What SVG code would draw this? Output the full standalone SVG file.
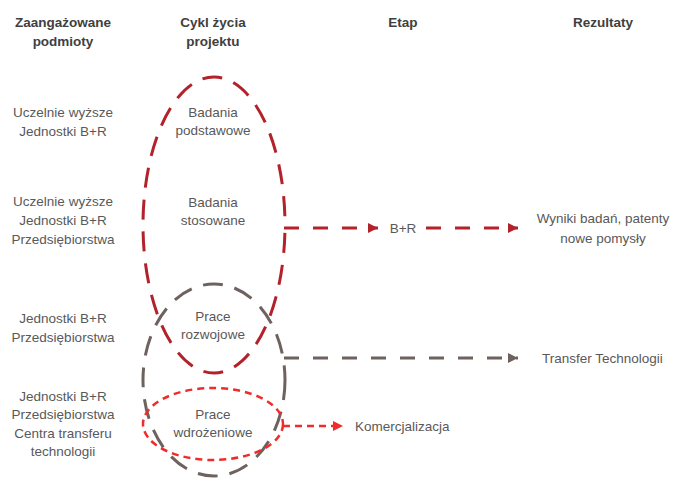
<svg xmlns="http://www.w3.org/2000/svg" width="676" height="478" viewBox="0 0 676 478">
<style>
text{font-family:"Liberation Sans",Arial,sans-serif;font-size:13.5px;fill:#595959;text-anchor:middle;dominant-baseline:central}
.h{font-weight:bold;fill:#404040;font-size:13.5px}
.l{text-anchor:start}
.red{fill:none;stroke:#b3212a;stroke-width:3}
.gray{fill:none;stroke:#6d625e;stroke-width:3}
.dot{fill:none;stroke:#f02b2b;stroke-width:2.5}
</style>
<defs>
<marker id="ar" viewBox="0 0 10 10" refX="10" refY="5" markerWidth="16" markerHeight="10" markerUnits="userSpaceOnUse" orient="auto"><path d="M0,0L10,5L0,10z" fill="#b3212a"/></marker>
<marker id="ag" viewBox="0 0 10 10" refX="10" refY="5" markerWidth="16" markerHeight="10" markerUnits="userSpaceOnUse" orient="auto"><path d="M0,0L10,5L0,10z" fill="#6d625e"/></marker>
<marker id="ab" viewBox="0 0 10 10" refX="10" refY="5" markerWidth="16" markerHeight="10" markerUnits="userSpaceOnUse" orient="auto"><path d="M0,0L10,5L0,10z" fill="#f02b2b"/></marker>
</defs>
<g id="headers">
<text class="h" x="63" y="22">Zaangażowane</text><text class="h" x="63" y="41">podmioty</text>
<text class="h" x="213" y="22">Cykl życia</text><text class="h" x="213" y="41">projektu</text>
<text class="h" x="403" y="22">Etap</text>
<text class="h" x="603" y="22">Rezultaty</text>
</g>
<g id="actors">
<text x="63" y="112">Uczelnie wyższe</text><text x="63" y="131">Jednostki B+R</text>
<text x="63" y="201">Uczelnie wyższe</text><text x="63" y="220">Jednostki B+R</text><text x="63" y="239">Przedsiębiorstwa</text>
<text x="63" y="318">Jednostki B+R</text><text x="63" y="337">Przedsiębiorstwa</text>
<text x="63" y="396">Jednostki B+R</text><text x="63" y="414">Przedsiębiorstwa</text><text x="63" y="433">Centra transferu</text><text x="63" y="451">technologii</text>
</g>
<g id="research">
<ellipse class="red" cx="214" cy="225" rx="71" ry="148" stroke-dasharray="20 12" stroke-dashoffset="-8"/>
<text x="213" y="112">Badania</text><text x="213" y="130">podstawowe</text>
<text x="213" y="202">Badania</text><text x="213" y="220">stosowane</text>
</g>
<g id="development">
<ellipse class="gray" cx="214" cy="380" rx="71" ry="96" stroke-dasharray="20 12"/>
<text x="213" y="316">Prace</text><text x="213" y="334">rozwojowe</text>
</g>
<g id="implementation">
<ellipse class="dot" cx="213" cy="424" rx="70" ry="36" stroke-dasharray="7 5"/>
<text x="213" y="414">Prace</text><text x="213" y="432">wdrożeniowe</text>
</g>
<g id="stages">
<text x="403" y="228">B+R</text>
<text x="603" y="218">Wyniki badań, patenty</text><text x="603" y="238">nowe pomysły</text>
<text class="l" x="542" y="358">Transfer Technologii</text>
<text class="l" x="355" y="426">Komercjalizacja</text>
</g>
<g id="connectors">
<path class="red" d="M284,228H378" stroke-dasharray="15 14" marker-end="url(#ar)"/>
<path class="red" d="M426,228H518" stroke-dasharray="15 14" marker-end="url(#ar)"/>
<path class="gray" d="M284,358H518" stroke-dasharray="15 14" marker-end="url(#ag)"/>
<path class="dot" d="M283,426H343" stroke-dasharray="7 5" marker-end="url(#ab)"/>
</g>
</svg>
